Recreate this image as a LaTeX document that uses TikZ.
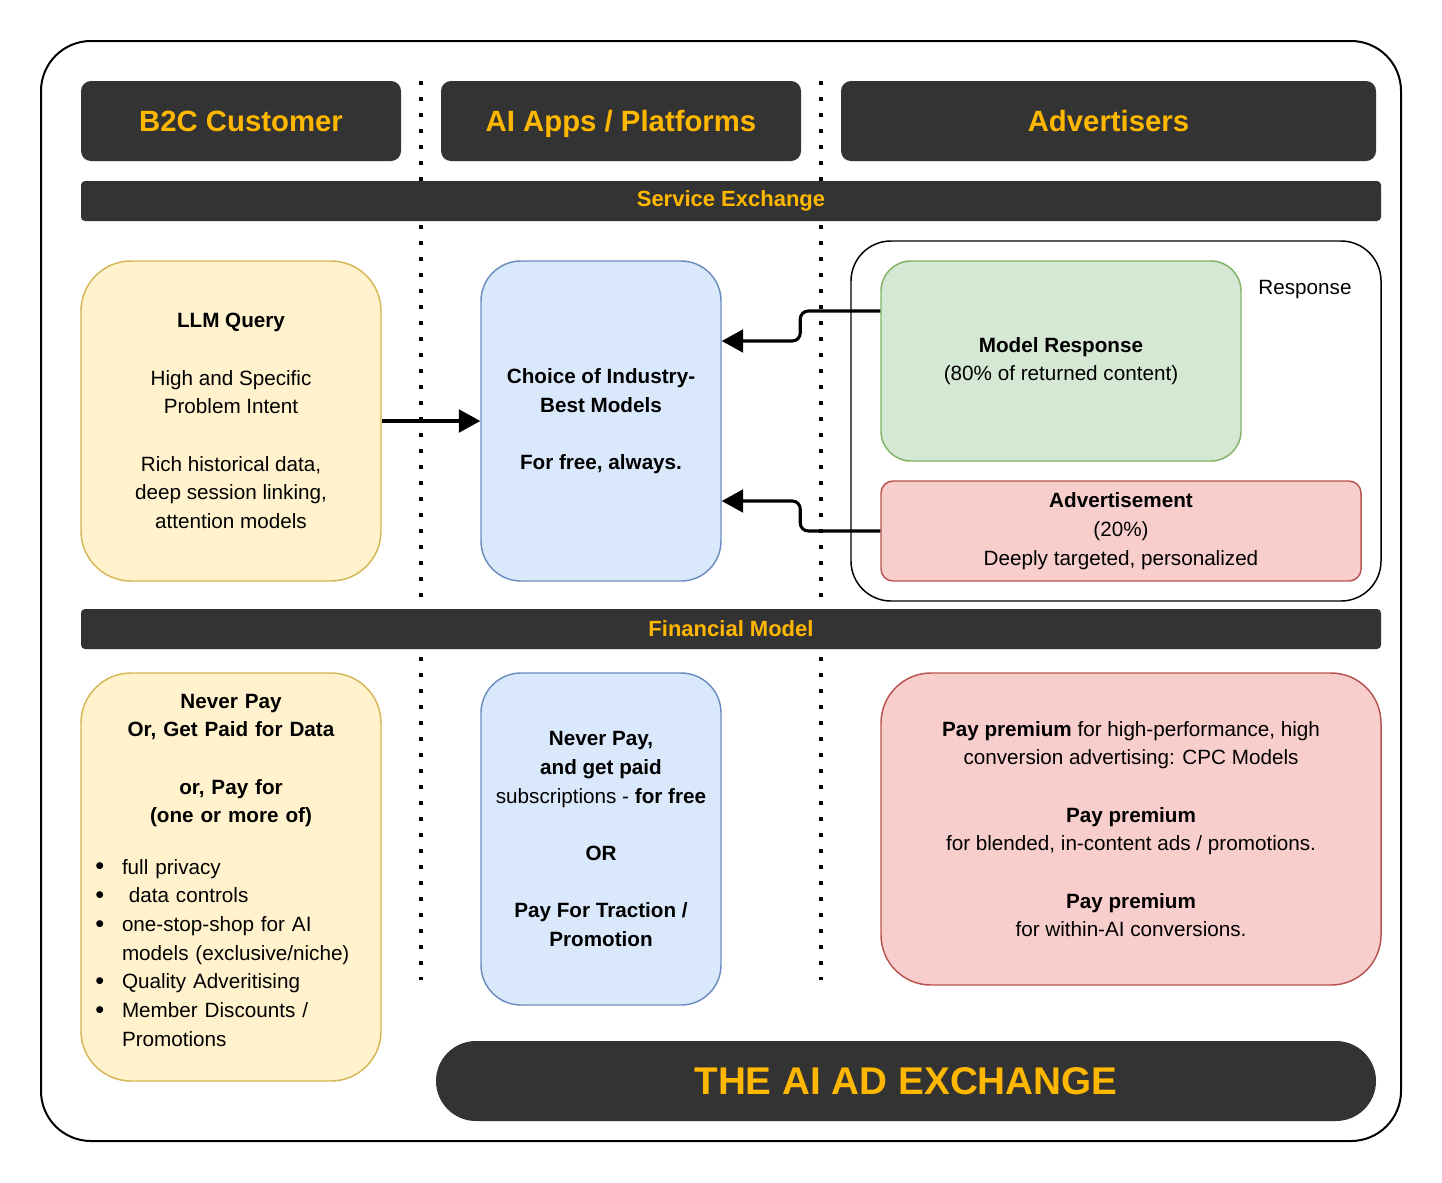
\documentclass[tikz,border=0pt]{standalone}
\usepackage{fontspec}
\setmainfont{Liberation Sans}
\usetikzlibrary{arrows.meta,calc,positioning}
\definecolor{D}{RGB}{51,51,51}
\definecolor{O}{RGB}{255,183,0}
\definecolor{Y}{RGB}{255,242,204}
\definecolor{YB}{RGB}{214,182,86}
\definecolor{B}{RGB}{218,232,252}
\definecolor{BB}{RGB}{108,142,191}
\definecolor{G}{RGB}{213,232,212}
\definecolor{GB}{RGB}{130,179,102}
\definecolor{R}{RGB}{248,206,204}
\definecolor{RB}{RGB}{184,84,80}
\newcommand{\itm}{\makebox[18pt][l]{\hspace*{-2pt}\raisebox{-0.5pt}{\fontsize{19}{19}\selectfont\textbullet}}}
\tikzstyle{lane} = [fill=D, text=O, rounded corners=7.5pt,
minimum height=60pt, inner sep=0pt, text height=20pt, text depth=4pt,
font=\bfseries\fontsize{22}{26}\selectfont]
\tikzstyle{band} = [fill=D, text=O, rounded corners=3pt,
minimum width=975pt, minimum height=30pt, inner sep=0pt,
font=\bfseries\fontsize{16.5}{20}\selectfont]
\tikzstyle{card} = [draw, line width=1.1pt, align=center, inner sep=0pt,
font=\fontsize{15.5}{21.5}\selectfont]
\tikzstyle{flow} = [-{Triangle[length=16pt,width=17pt]}, line width=2.3pt]
\tikzstyle{divider} = [line width=3pt, dash pattern=on 3pt off 9pt]
\begin{document}
\begin{tikzpicture}[x=0.75pt,y=-0.75pt]
\useasboundingbox (0,0) rectangle (1442,1182);
\draw[line width=1.5pt, rounded corners=37.5pt] (41,41) rectangle (1401,1141);
% lane dividers
\draw[divider] (421,81) -- (421,980);
\draw[divider] (821,81) -- (821,980);
% headers
\node[lane, minimum width=240pt] (cust) at (241,121) {B2C Customer};
\node[lane, minimum width=270pt] (apps) at (621,121) {AI Apps / Platforms};
\node[lane, minimum width=401.25pt] (adv) at (1108.5,121) {Advertisers};
\node[band] (svc) at (731,201) {Service Exchange};
% service exchange
\node[card, fill=Y, draw=YB, rounded corners=37.5pt, minimum width=225pt,
minimum height=240pt] (llm) at (231,421)
{\textbf{LLM Query}\\[21.5pt]High and Specific\\Problem Intent\\[21.5pt]
Rich historical data,\\deep session linking,\\attention models};
\node[card, fill=B, draw=BB, rounded corners=30pt, minimum width=180pt,
minimum height=240pt, font=\bfseries\fontsize{15.5}{21.5}\selectfont] (choice) at (601,421)
{Choice of Industry-\\Best Models\\[21.5pt]For free, always.};
\node[card, fill=white, draw=black, rounded corners=30pt, minimum width=397.5pt,
minimum height=270pt] (resp) at (1116,421) {};
\node[font=\fontsize{15.5}{21.5}\selectfont] (resplbl) at (1305,290) {Response};
\node[card, fill=G, draw=GB, rounded corners=22.5pt, minimum width=270pt,
minimum height=150pt] (model) at (1061,361)
{\textbf{Model Response}\\(80\% of returned content)};
\node[card, fill=R, draw=RB, rounded corners=9pt, minimum width=360pt,
minimum height=75pt] (advert) at (1121,531)
{\textbf{Advertisement}\\(20\%)\\Deeply targeted, personalized};
\draw[flow] (llm.east) -- (choice.west);
\draw[flow, rounded corners=6pt] ($(model.west)+(0,-50)$) -- ++(-80,0)
|- ($(choice.east)+(0,-80)$);
\draw[flow, rounded corners=6pt] (advert.west) -- ++(-80,0)
|- ($(choice.east)+(0,80)$);
% financial model
\node[band] (fin) at (731,629) {Financial Model};
\node[card, fill=Y, draw=YB, rounded corners=37.5pt, minimum width=225pt,
minimum height=306pt, text width=199.5pt, align=left] (pay) at (231,877)
{{\centering\bfseries Never Pay\\Or, Get Paid for Data\\[21.5pt]or, Pay for\\(one or more of)\par}
\vspace{17pt}
\itm full privacy\\
\itm\ data controls\\
\itm one-stop-shop for AI\\
\hspace*{18pt}models (exclusive/niche)\\
\itm Quality Adveritising\\
\itm Member Discounts /\\
\hspace*{18pt}Promotions\par\kern10.5pt};
\node[card, fill=B, draw=BB, rounded corners=30pt, minimum width=180pt,
minimum height=249pt] (earn) at (601,839)
{\textbf{Never Pay,}\\\textbf{and get paid}\\subscriptions - \textbf{for free}\\[21.5pt]
\textbf{OR}\\[21.5pt]\textbf{Pay For Traction /}\\\textbf{Promotion}};
\node[card, fill=R, draw=RB, rounded corners=37.5pt, minimum width=375pt,
minimum height=234pt] (prem) at (1131,829)
{\textbf{Pay premium} for high-performance, high\\conversion advertising: CPC Models\\[21.5pt]
\textbf{Pay premium}\\for blended, in-content ads / promotions.\\[21.5pt]
\textbf{Pay premium}\\for within-AI conversions.};
\node[fill=D, text=O, rounded corners=30pt, minimum width=705pt, minimum height=60pt,
inner sep=0pt, font=\bfseries\fontsize{29}{34}\selectfont] (brand) at (906,1081)
{THE AI AD EXCHANGE};
\end{tikzpicture}
\end{document}
